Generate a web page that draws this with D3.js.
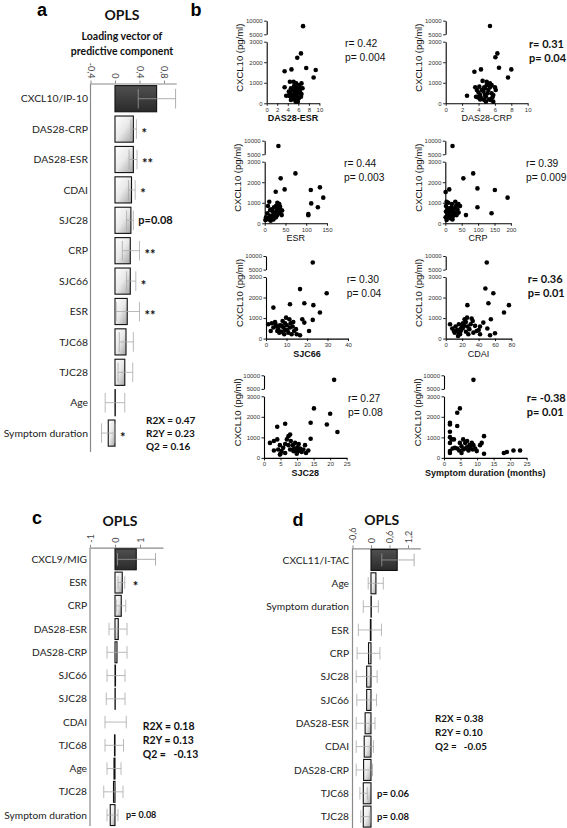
<!DOCTYPE html>
<html><head><meta charset="utf-8">
<script src="https://cdn.jsdelivr.net/npm/d3@7"></script>
<style>body{margin:0;background:#fff}svg{display:block}</style>
</head><body>
<svg id="chart" width="567" height="828"></svg>
<script>
// ---------- Panel a (OPLS, CXCL10) ----------
const oplsACategories = ["CXCL10/IP-10","DAS28-CRP","DAS28-ESR","CDAI","SJC28","CRP","SJC66","ESR","TJC68","TJC28","Age","Symptom duration"];
const oplsAValues = [0.68,0.30,0.30,0.27,0.26,0.25,0.25,0.20,0.18,0.16,0.005,-0.11];
const oplsALow    = [0.38,0.26,0.23,0.22,0.19,0.12,0.19,0.02,0.07,0.05,-0.16,-0.22];
const oplsAHigh   = [0.99,0.35,0.36,0.33,0.30,0.40,0.34,0.40,0.30,0.29,0.16,0.0];
const oplsANotes  = ["","*","**","*","p=0.08","**","*","**","","","","*"];
const oplsAStats  = ["R2X = 0.47","R2Y = 0.23","Q2 = 0.16"];
const oplsATicks  = [-0.4,0,0.4,0.8];

// ---------- Panel c (OPLS, CXCL9) ----------
const oplsCCategories = ["CXCL9/MIG","ESR","CRP","DAS28-ESR","DAS28-CRP","SJC66","SJC28","CDAI","TJC68","Age","TJC28","Symptom duration"];
const oplsCValues = [0.85,0.29,0.25,0.13,0.08,0.02,0.01,0.0,-0.02,-0.04,-0.06,-0.19];
const oplsCLow    = [0.10,0.12,0.05,-0.24,-0.32,-0.32,-0.35,-0.40,-0.40,-0.32,-0.45,-0.32];
const oplsCHigh   = [1.62,0.39,0.43,0.48,0.48,0.40,0.40,0.45,0.34,0.24,0.32,0.12];
const oplsCNotes  = ["","*","","","","","","","","","","p= 0.08"];
const oplsCStats  = ["R2X = 0.18","R2Y = 0.13","Q2 =   -0.13"];
const oplsCTicks  = [-1,0,1];

// ---------- Panel d (OPLS, CXCL11) ----------
const oplsDCategories = ["CXCL11/I-TAC","Age","Symptom duration","ESR","CRP","SJC28","SJC66","DAS28-ESR","CDAI","DAS28-CRP","TJC68","TJC28"];
const oplsDValues = [0.85,0.16,0.01,-0.02,-0.08,-0.14,-0.14,-0.19,-0.22,-0.24,-0.25,-0.25];
const oplsDLow    = [0.35,-0.09,-0.25,-0.41,-0.45,-0.48,-0.46,-0.48,-0.48,-0.48,-0.36,-0.33];
const oplsDHigh   = [1.40,0.40,0.24,0.34,0.29,0.20,0.18,0.13,0.08,0.05,-0.12,-0.03];
const oplsDNotes  = ["","","","","","","","","","","p= 0.06","p= 0.08"];
const oplsDStats  = ["R2X = 0.38","R2Y = 0.10","Q2 =   -0.05"];
const oplsDTicks  = [-0.6,0,0.6,1.2];

// ---------- Panel b scatter data: [x, CXCL10 pg/ml] ----------
const scatterDAS28ESR = [[6.9,8000],[6.5,2430],[5.8,2220],[4.7,1650],[3.4,1560],[7.5,1720],[9.3,1620],[8.9,1260],[3.7,370],
 [4.6,730],[4.9,620],[5.2,840],[5.6,970],[5.8,780],[6.2,890],[6.5,730],[5.4,520],[4.4,490],[5.1,320],[5.7,360],[6.0,490],
 [6.3,570],[4.7,240],[5.3,190],[5.6,240],[5.8,160],[4.3,360],[4.2,570],[6.5,320],[6.1,240],[5.1,1050],[4.4,1050],[5.4,680],
 [6.6,970],[5.2,400],[4.8,420],[5.7,570],[6.2,650],[4.6,160],[5.5,80],[5.9,80],[6.6,450],[6.8,730],[3.4,780]];
const scatterDAS28CRP = [[5.4,8050],[6.3,2430],[6.06,2240],[6.5,1730],[3.5,1540],[4.3,1650],[7.6,1260],[8.0,1650],[2.6,370],
 [6.1,650],[4.5,1090],[5.0,1050],[5.4,970],[3.6,780],[3.8,650],[4.0,520],[4.2,400],[3.7,320],[4.4,240],[4.7,160],[4.9,320],
 [5.1,490],[5.2,650],[5.4,780],[5.6,890],[4.8,730],[4.6,570],[5.2,890],[5.6,490],[5.7,290],[5.3,190],[4.9,80],[4.2,190],
 [3.9,290],[5.5,160],[5.8,80],[5.0,890],[4.7,780],[4.4,650],[4.1,810],[5.8,400],[6.0,780],[4.8,400]];
const scatterESR = [[33,8050],[74,2430],[38.5,2190],[26.5,1540],[48,1650],[111,1620],[133,1750],[141,1250],[128,780],[112,970],
 [105,450],[105,390],[11,1050],[8,840],[13,650],[6.4,490],[3.2,290],[9.6,190],[17,290],[21,400],[25,520],[29,620],[33,710],
 [37,810],[30.5,1000],[35,940],[38.5,650],[41,400],[27,290],[21,190],[14.4,130],[33.7,490],[30.5,400],[25,320],[19,570],
 [17,680],[22.5,780],[27,840],[32,570],[37,520],[42,620],[6.4,240],[1.6,160],[13,360]];
const scatterCRP = [[22,8050],[85,2430],[55,2190],[98,1700],[1,1520],[12,1650],[151,1620],[190,1250],[98,780],[141,490],[63,400],
 [4,1050],[9,1000],[2,840],[7,730],[2,570],[6,450],[1,290],[4,160],[10,290],[14,400],[17,520],[12,650],[19,780],[24,650],
 [29,730],[32.5,840],[37,890],[40,940],[26.5,490],[22,320],[32.5,520],[37,680],[16,240],[22,190],[28.5,400],[34.5,400],
 [14,730],[9,570],[45,840],[40.6,520],[20,940],[30.5,1050]];
const scatterSJC66 = [[22.8,7620],[16.6,2410],[29.6,2210],[18.7,1720],[23.1,1630],[11.7,1670],[3.6,1510],[26.3,1270],[22.8,910],
 [17.7,940],[18.7,780],[21,370],[16.6,160],[1.1,700],[2.3,370],[4.4,810],[5.2,590],[6,460],[6.8,650],[7.6,330],[8.5,540],
 [9.3,750],[9.8,1020],[10.4,420],[10.9,290],[11.7,540],[12,750],[13,590],[13.7,370],[14.6,460],[12.5,210],[11.4,940],[8.9,210],
 [6.5,290],[5.5,370],[4.7,700],[8.1,860],[10.1,650],[3.6,540],[2.8,750],[9.3,420],[13.3,810],[15,210],[7.6,620]];
const scatterCDAI = [[50,7620],[48.3,2440],[58,2210],[26.4,1630],[52,1720],[77,1630],[71,1270],[55,940],[50.7,490],[60,260],[54,160],
 [5.3,700],[8,490],[10,370],[12,590],[14,420],[16,290],[18,460],[19.5,650],[21,750],[23,940],[24.5,810],[26,1020],[26.4,590],
 [28.8,460],[30.4,700],[32.9,860],[35.7,620],[37.7,370],[40.2,420],[24.7,330],[20.7,490],[17.5,210],[15,130],[27.6,210],
 [33.7,290],[41.8,590],[45.8,780],[31.6,980],[22.3,620],[18.3,370],[16,700],[11,290],[41.8,210]];
const scatterSJC28 = [[21.2,8330],[15.1,2410],[20,2150],[14.1,1710],[19,1630],[22.2,1260],[6.4,1660],[4,1520],[14.1,930],
 [1.8,730],[3,820],[4,900],[3,360],[4.3,410],[4.8,620],[5,200],[5.3,330],[5.8,490],[6.4,680],[6.9,900],[7.4,1060],[7.9,1140],
 [8.1,820],[8.7,620],[9.1,460],[9.7,330],[10.1,520],[10.5,680],[10.9,460],[11.4,290],[11.9,410],[12.4,620],[12.7,240],
 [13.4,360],[7.9,410],[6.4,240],[4.8,160],[7.4,620],[9.4,730],[9.9,200],[8.9,330],[10.4,330]];
const scatterSymptom = [[8.9,8330],[4.8,2410],[4,2200],[1.8,1710],[1.8,1630],[4,1550],[1.8,1270],[1.8,1010],[2.3,900],[3,900],
 [12.1,1060],[11.4,730],[10.9,620],[8.4,730],[8.9,620],[1.8,730],[1.8,330],[1.8,240],[3.3,490],[4,460],[4.8,730],[5.3,570],
 [5.8,410],[6.4,460],[6.9,520],[7.4,360],[7.9,490],[5.8,900],[7,820],[8.7,410],[9.4,460],[5.3,240],[4.6,360],[12.1,200],
 [18.1,240],[19,290],[21,360],[23,360],[9.9,330],[7.7,620],[6.4,730],[2.6,460]];

const scatterXLabels = ["DAS28-ESR","DAS28-CRP","ESR","CRP","SJC66","CDAI","SJC28","Symptom duration (months)"];
const scatterR = ["r= 0.42","r= 0.31","r= 0.44","r= 0.39","r= 0.30","r= 0.36","r= 0.27","r= -0.38"];
const scatterP = ["p= 0.004","p= 0.04","p= 0.003","p= 0.009","p= 0.04","p= 0.01","p= 0.08","p= 0.01"];
const scatterXMax = [10,10,150,200,40,80,25,25];
const scatterXStep = [2,2,50,50,10,20,5,5];
const yLowTicks = [0,1000,2000,3000];
const yHighTicks = [5000,10000];

// ================== drawing ==================
const svg = d3.select("#chart");
svg.append("rect").attr("width",567).attr("height",828).attr("fill","#fff");
const defs = svg.append("defs");
const gl = defs.append("linearGradient").attr("id","gLight").attr("x1",0).attr("y1",0).attr("x2",1).attr("y2",1);
gl.append("stop").attr("offset",0).attr("stop-color","#ffffff");
gl.append("stop").attr("offset",0.5).attr("stop-color","#e9e9e9");
gl.append("stop").attr("offset",1).attr("stop-color","#a4a4a4");
const gd = defs.append("linearGradient").attr("id","gDark").attr("x1",0).attr("y1",0).attr("x2",0).attr("y2",1);
gd.append("stop").attr("offset",0).attr("stop-color","#505050");
gd.append("stop").attr("offset",1).attr("stop-color","#2a2a2a");

const LBL = "Lato, 'Open Sans', sans-serif";
const ARIAL = "'Liberation Sans', Arial, sans-serif";

function panelLetter(t, x, y){
  svg.append("text").attr("x",x).attr("y",y).attr("text-anchor","middle")
    .attr("font-family",ARIAL).attr("font-weight","bold").attr("font-size",18).text(t);
}
function commaFmt(d){ return d === 0 ? "0" : String(d).replace(".", ","); }

function drawBarPanel(cfg){
  const g = svg.append("g");
  const x = d3.scaleLinear().domain(cfg.domain).range(cfg.xRange);
  const n = cfg.categories.length;
  const y = d3.scaleBand().domain(cfg.categories).range([cfg.top, cfg.top + cfg.step*n]).paddingInner(cfg.pad).paddingOuter(cfg.pad/2);
  const ax = g.append("g").attr("transform",`translate(0,${cfg.top})`)
    .call(d3.axisTop(x).tickValues(cfg.ticks).tickSize(3).tickSizeOuter(0).tickFormat(commaFmt));
  ax.select(".domain").attr("stroke","#8a8a8a").attr("stroke-width",1.2);
  ax.selectAll(".tick line").attr("stroke","#8a8a8a");
  ax.selectAll(".tick text").attr("font-family",LBL).attr("font-size",9).attr("fill","#444")
    .attr("y",0).attr("dy","0.35em")
    .attr("x", cfg.rot > 0 ? -5 : 5)
    .attr("text-anchor", cfg.rot > 0 ? "end" : "start")
    .attr("transform",`rotate(${cfg.rot})`);
  g.append("line").attr("x1",cfg.xRange[0]).attr("x2",cfg.xRange[0]).attr("y1",cfg.top).attr("y2",cfg.bottomLine)
    .attr("stroke","#8a8a8a").attr("stroke-width",1.2);
  g.selectAll("text.cat").data(cfg.categories).join("text").attr("class","cat")
    .attr("x",cfg.labelX).attr("y",d=>y(d)+y.bandwidth()/2).attr("dy","0.35em")
    .attr("text-anchor","end").attr("font-family",LBL).attr("font-size",cfg.labelSize).attr("fill","#222").text(d=>d);
  g.selectAll("rect.bar").data(cfg.values).join("rect").attr("class","bar")
    .attr("x",v=>x(Math.min(0,v))).attr("width",v=>Math.abs(x(v)-x(0)))
    .attr("y",(v,i)=>y(cfg.categories[i])).attr("height",y.bandwidth())
    .attr("fill",(v,i)=> i===0 ? "url(#gDark)" : "url(#gLight)")
    .attr("stroke","#111").attr("stroke-width",1.1);
  const capH = y.bandwidth()*cfg.cap;
  cfg.values.forEach((v,i)=>{
    const cy = y(cfg.categories[i]) + y.bandwidth()/2;
    const lo = x(cfg.low[i]), hi = x(cfg.high[i]);
    const col = i===0 ? "#9a9a9a" : "#a8a8a8";
    g.append("line").attr("x1",lo).attr("x2",hi).attr("y1",cy).attr("y2",cy).attr("stroke",col).attr("stroke-width",0.8);
    [lo,hi].forEach(px=> g.append("line").attr("x1",px).attr("x2",px).attr("y1",cy-capH/2).attr("y2",cy+capH/2)
      .attr("stroke",col).attr("stroke-width",0.8));
    const note = cfg.notes[i];
    if(note){
      const isStar = note[0] === "*";
      g.append("text").attr("x", x(Math.max(0, v, cfg.high[i])) + cfg.noteGap)
        .attr("y", cy + (isStar ? 4 : 0)).attr("dy","0.35em")
        .attr("font-family",LBL).attr("font-weight","bold")
        .attr("font-size", isStar ? 13 : cfg.noteSize).attr("fill","#111").text(note);
    }
  });
  cfg.stats.forEach((s,i)=>{
    g.append("text").attr("x",cfg.statX).attr("y",cfg.statY + i*cfg.statStep).attr("dy","0.35em")
      .attr("font-family",LBL).attr("font-weight","bold").attr("font-size",cfg.statSize).attr("fill","#111")
      .style("white-space","pre").text(s);
  });
  g.append("text").attr("x",cfg.titleX).attr("y",cfg.titleY).attr("text-anchor","middle").attr("dy","0.35em")
    .attr("font-family",LBL).attr("font-weight","bold").attr("font-size",14).attr("fill","#111").text("OPLS");
}

// Panel a
panelLetter("a", 42, 16);
drawBarPanel({categories:oplsACategories, values:oplsAValues, low:oplsALow, high:oplsAHigh, notes:oplsANotes, stats:oplsAStats,
  ticks:oplsATicks, domain:[-0.4,1.0], xRange:[90.5,176.2], top:83.5, step:30.4, pad:0.14, bottomLine:452, rot:90,
  labelX:88, labelSize:10.4, cap:0.75, noteGap:5, noteSize:11, statX:146, statY:420, statStep:13.4, statSize:10,
  titleX:122, titleY:15});
svg.append("text").attr("x",122).attr("y",36).attr("text-anchor","middle").attr("dy","0.35em")
  .attr("font-family",LBL).attr("font-weight","bold").attr("font-size",10.5).attr("fill","#111").text("Loading vector of");
svg.append("text").attr("x",122).attr("y",51).attr("text-anchor","middle").attr("dy","0.35em")
  .attr("font-family",LBL).attr("font-weight","bold").attr("font-size",10.5).attr("fill","#111").text("predictive component");

// Panel c
panelLetter("c", 37, 524);
drawBarPanel({categories:oplsCCategories, values:oplsCValues, low:oplsCLow, high:oplsCHigh, notes:oplsCNotes, stats:oplsCStats,
  ticks:oplsCTicks, domain:[-1,1.92], xRange:[90,163], top:547.7, step:23.25, pad:0.1, bottomLine:826, rot:-90,
  labelX:87, labelSize:10.2, cap:0.6, noteGap:8, noteSize:9, statX:142.7, statY:726, statStep:14.1, statSize:10.5,
  titleX:120, titleY:521});

// Panel d
panelLetter("d", 298, 526);
drawBarPanel({categories:oplsDCategories, values:oplsDValues, low:oplsDLow, high:oplsDHigh, notes:oplsDNotes, stats:oplsDStats,
  ticks:oplsDTicks, domain:[-0.6,1.6], xRange:[352.5,420.3], top:548.3, step:23.33, pad:0.1, bottomLine:828, rot:-90,
  labelX:349, labelSize:10.2, cap:0.6, noteGap:6, noteSize:9.5, statX:435, statY:718.3, statStep:14.2, statSize:9.8,
  titleX:381.7, titleY:520});

// Panel b
panelLetter("b", 196, 16);
const scatterData = [scatterDAS28ESR, scatterDAS28CRP, scatterESR, scatterCRP, scatterSJC66, scatterCDAI, scatterSJC28, scatterSymptom];
const scatterLayout = [
  {ox:266.7, w:52.7, top:20.7, rx:345,   boldX:true,  boldStat:false},
  {ox:445.7, w:82,   top:20.7, rx:529,   boldX:false, boldStat:true},
  {ox:264.7, w:62.3, top:140.7,rx:344,   boldX:false, boldStat:false},
  {ox:445.3, w:65.6, top:140.7,rx:526,   boldX:false, boldStat:false},
  {ox:266,   w:82,   top:256,  rx:346.7, boldX:true,  boldStat:false},
  {ox:445.7, w:65.7, top:256,  rx:527.7, boldX:false, boldStat:true},
  {ox:264,   w:82.7, top:375.3,rx:348,   boldX:true,  boldStat:false},
  {ox:444,   w:82.7, top:375.3,rx:526.7, boldX:true,  boldStat:true}
];
const intFmt = d3.format("d");
function styleAxis(sel){
  sel.select(".domain").attr("stroke","#000").attr("stroke-width",1.1);
  sel.selectAll(".tick line").attr("stroke","#000").attr("stroke-width",0.9);
  sel.selectAll(".tick text").attr("font-family",ARIAL).attr("font-size",6).attr("fill","#333");
}
scatterData.forEach((data, k)=>{
  const L = scatterLayout[k];
  const g = svg.append("g");
  const x = d3.scaleLinear().domain([0, scatterXMax[k]]).range([L.ox, L.ox + L.w]);
  const y0 = L.top + 82.6;
  const yLow = d3.scaleLinear().domain([0,3000]).range([y0, L.top + 21]);
  const yHigh = d3.scaleLinear().domain([5000,10000]).range([L.top + 13.6, L.top]);
  const yv = v => v > 4000 ? yHigh(v) : yLow(v);
  g.append("g").attr("transform",`translate(0,${y0})`)
    .call(d3.axisBottom(x).tickValues(d3.range(0, scatterXMax[k]+1e-9, scatterXStep[k])).tickFormat(intFmt)
      .tickSize(2.5).tickSizeOuter(0).tickPadding(1.5))
    .call(styleAxis);
  g.append("g").attr("transform",`translate(${L.ox},0)`)
    .call(d3.axisLeft(yLow).tickValues(yLowTicks).tickFormat(intFmt).tickSize(2.5).tickSizeOuter(0).tickPadding(1.5)).call(styleAxis);
  g.append("g").attr("transform",`translate(${L.ox},0)`)
    .call(d3.axisLeft(yHigh).tickValues(yHighTicks).tickFormat(intFmt).tickSize(2.5).tickSizeOuter(0).tickPadding(1.5)).call(styleAxis);
  g.selectAll("circle").data(data).join("circle")
    .attr("cx",d=>x(d[0])).attr("cy",d=>yv(d[1])).attr("r",2.3).attr("fill","#000");
  g.append("text").attr("transform",`translate(${L.ox-26.7},${L.top+37}) rotate(-90)`).attr("text-anchor","middle")
    .attr("dy","0.35em").attr("font-family",ARIAL).attr("font-size",9.5).attr("fill","#111").text("CXCL10 (pg/ml)");
  g.append("text").attr("x",L.ox + L.w/2).attr("y",y0+15).attr("dy","0.35em").attr("text-anchor","middle")
    .attr("font-family",ARIAL).attr("font-weight",L.boldX ? "bold" : "normal").attr("font-size",9).attr("fill","#111")
    .text(scatterXLabels[k]);
  [scatterR[k], scatterP[k]].forEach((s,i)=>{
    g.append("text").attr("x",L.rx).attr("y",L.top + 23 + i*14).attr("dy","0.35em")
      .attr("font-family", L.boldStat ? LBL : ARIAL).attr("font-weight", L.boldStat ? "bold" : "normal")
      .attr("font-size", L.boldStat ? 11 : 10.3).attr("fill","#111").text(s);
  });
});
</script>
</body></html>
